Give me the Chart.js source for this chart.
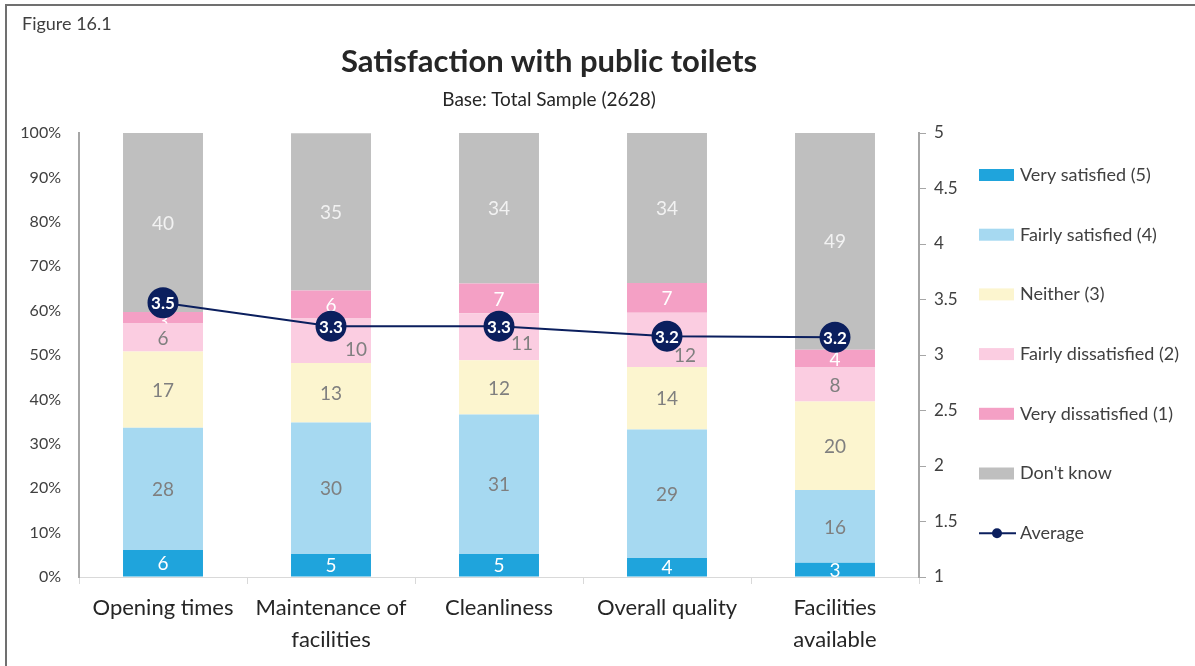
<!DOCTYPE html>
<html>
<head>
<meta charset="utf-8">
<script src="https://cdn.jsdelivr.net/npm/chart.js@4/dist/chart.umd.min.js"></script>
<style>
  html, body { margin: 0; padding: 0; background: #ffffff; }
  body { width: 1195px; height: 666px; position: relative; overflow: hidden; font-family: Lato, "Open Sans", sans-serif; }
  #frame { position: absolute; left: 5px; top: 4px; width: 1300px; height: 800px; border: 2px solid #707070; box-sizing: border-box; }
  #fig { position: absolute; left: 22px; top: 12px; font-size: 18px; color: #404040; }
  #title { position: absolute; left: 0; width: 1098px; top: 41px; text-align: center; font-size: 31px; font-weight: bold; color: #262626; }
  #subtitle { position: absolute; left: 0; width: 1098px; top: 87px; text-align: center; font-size: 19px; color: #262626; }
  #wrap { position: absolute; left: 0; top: 0; width: 1195px; height: 666px; }
</style>
</head>
<body>
<div id="frame"></div>
<div id="wrap"><canvas id="c" width="1195" height="666"></canvas></div>
<div id="fig">Figure 16.1</div>
<div id="title">Satisfaction with public toilets</div>
<div id="subtitle">Base: Total Sample (2628)</div>
<script>
// ---- data ----
const categories = [["Opening times"], ["Maintenance of", "facilities"], ["Cleanliness"], ["Overall quality"], ["Facilities", "available"]];
const seriesNames = ["Very satisfied (5)", "Fairly satisfied (4)", "Neither (3)", "Fairly dissatisfied (2)", "Very dissatisfied (1)", "Don't know"];
const verySatisfied = [6.1, 5.2, 5.2, 4.3, 3.2];
const fairlySatisfied = [27.5, 29.6, 31.4, 28.9, 16.4];
const neither = [17.2, 13.4, 12.2, 14.1, 19.9];
const fairlyDissatisfied = [6.3, 10.0, 10.6, 12.2, 7.7];
const veryDissatisfied = [2.6, 6.3, 6.7, 6.7, 4.0];
const dontKnow = [40.3, 35.45, 33.9, 33.8, 48.8];
const averageName = "Average";
const average = [3.47, 3.26, 3.26, 3.17, 3.16];
const leftTicks = [0, 10, 20, 30, 40, 50, 60, 70, 80, 90, 100];
const rightTicks = [1, 1.5, 2, 2.5, 3, 3.5, 4, 4.5, 5];

const colors = ["#1fa4dc", "#a6d9f1", "#fcf5cf", "#fbcde1", "#f4a0c5", "#bfbfbf"];
const labelColors = ["#ffffff", "#7f7f7f", "#7f7f7f", "#7f7f7f", "#ffffff", "#f2f2f2"];
const navy = "#0b1f5e";
const FONT = "Lato, 'Open Sans', sans-serif";

const barSeries = [verySatisfied, fairlySatisfied, neither, fairlyDissatisfied, veryDissatisfied, dontKnow];

const datasets = barSeries.map((arr, i) => ({
  type: 'bar',
  label: seriesNames[i],
  data: arr,
  backgroundColor: colors[i],
  borderWidth: 0,
  stack: 's',
  yAxisID: 'y',
  order: 1,
  categoryPercentage: 1.0,
  barPercentage: 0.476
}));
datasets.push({
  type: 'line',
  label: averageName,
  data: average,
  yAxisID: 'y2',
  borderColor: navy,
  borderWidth: 2,
  pointRadius: 14.5,
  pointHoverRadius: 14.5,
  pointBackgroundColor: navy,
  pointBorderColor: navy,
  order: 0,
  tension: 0
});

// label nudges (dataset index -> category index -> [dx, dy])
const labelNudge = { 3: { 1: [25, 8], 2: [23, 6], 3: [18, 15] }, 4: { 0: [0, 3] } };

const labelPlugin = {
  id: 'segLabels',
  afterDatasetDraw(chart, args) {
    const ds = chart.data.datasets[args.index];
    if (ds.type !== 'bar') return;
    const ctx = chart.ctx;
    const meta = args.meta;
    ctx.save();
    ctx.font = "19px " + FONT;
    ctx.textAlign = 'center';
    ctx.textBaseline = 'middle';
    ctx.fillStyle = labelColors[args.index];
    meta.data.forEach((el, j) => {
      const v = ds.data[j];
      let x = el.x, y = (el.y + el.base) / 2;
      const n = labelNudge[args.index] && labelNudge[args.index][j];
      if (n) { x += n[0]; y += n[1]; }
      ctx.fillText(String(Math.round(v)), x, y + 1);
    });
    ctx.restore();
  },
  afterDatasetsDraw(chart) {
    const ctx = chart.ctx;
    const idx = chart.data.datasets.length - 1;
    const meta = chart.getDatasetMeta(idx);
    const ds = chart.data.datasets[idx];
    ctx.save();
    ctx.font = "bold 17px " + FONT;
    ctx.textAlign = 'center';
    ctx.textBaseline = 'middle';
    ctx.fillStyle = '#ffffff';
    meta.data.forEach((el, j) => {
      ctx.fillText(ds.data[j].toFixed(1), el.x, el.y + 1);
    });
    // legend
    const lx = 979, ly0 = 175, step = 59.7;
    ctx.font = "18px " + FONT;
    ctx.textAlign = 'left';
    chart.data.datasets.forEach((d, i) => {
      const cy = ly0 + i * step;
      if (d.type === 'bar') {
        ctx.fillStyle = d.backgroundColor;
        ctx.fillRect(lx, cy - 6, 35, 12);
      } else {
        ctx.strokeStyle = d.borderColor;
        ctx.lineWidth = 2;
        ctx.beginPath();
        ctx.moveTo(lx, cy);
        ctx.lineTo(lx + 37, cy);
        ctx.stroke();
        ctx.fillStyle = d.pointBackgroundColor;
        ctx.beginPath();
        ctx.arc(lx + 18, cy, 5, 0, Math.PI * 2);
        ctx.fill();
      }
      ctx.fillStyle = '#404040';
      ctx.fillText(d.label, lx + 41, cy);
    });
    ctx.restore();
  }
};

new Chart(document.getElementById('c'), {
  data: { labels: categories, datasets },
  options: {
    responsive: false,
    animation: false,
    devicePixelRatio: 1,
    layout: { padding: { top: 133, left: 0, right: 216, bottom: 0 } },
    plugins: { legend: { display: false }, tooltip: { enabled: false }, title: { display: false } },
    scales: {
      x: {
        stacked: true,
        offset: true,
        grid: { display: true, drawOnChartArea: false, drawTicks: true, tickLength: 7, offset: true, color: '#d9d9d9' },
        border: { display: true, color: '#d9d9d9', width: 1 },
        ticks: { color: '#262626', font: { family: FONT, size: 22, lineHeight: 1.45 }, padding: 8, maxRotation: 0, autoSkip: false },
        afterFit(s) { s.height = 89; }
      },
      y: {
        stacked: true,
        position: 'left',
        min: 0, max: 100,
        afterBuildTicks(s) { s.ticks = leftTicks.map(v => ({ value: v })); },
        grid: { display: true, drawOnChartArea: false, drawTicks: false, color: '#a6a6a6' },
        border: { display: true, color: '#a6a6a6', width: 2 },
        ticks: { color: '#404040', font: { family: FONT, size: 16 }, padding: 18, callback: v => v + '%' },
        afterFit(s) { s.width = 79; }
      },
      y2: {
        position: 'right',
        min: 1, max: 5,
        afterBuildTicks(s) { s.ticks = rightTicks.map(v => ({ value: v })); },
        grid: { display: true, drawOnChartArea: false, drawTicks: true, tickLength: 7, color: '#a6a6a6' },
        border: { display: true, color: '#a6a6a6', width: 2 },
        ticks: { color: '#404040', font: { family: FONT, size: 17 }, padding: 8, callback: v => String(v) },
        afterFit(s) { s.width = 60; }
      }
    }
  },
  plugins: [labelPlugin]
});
</script>
</body>
</html>
